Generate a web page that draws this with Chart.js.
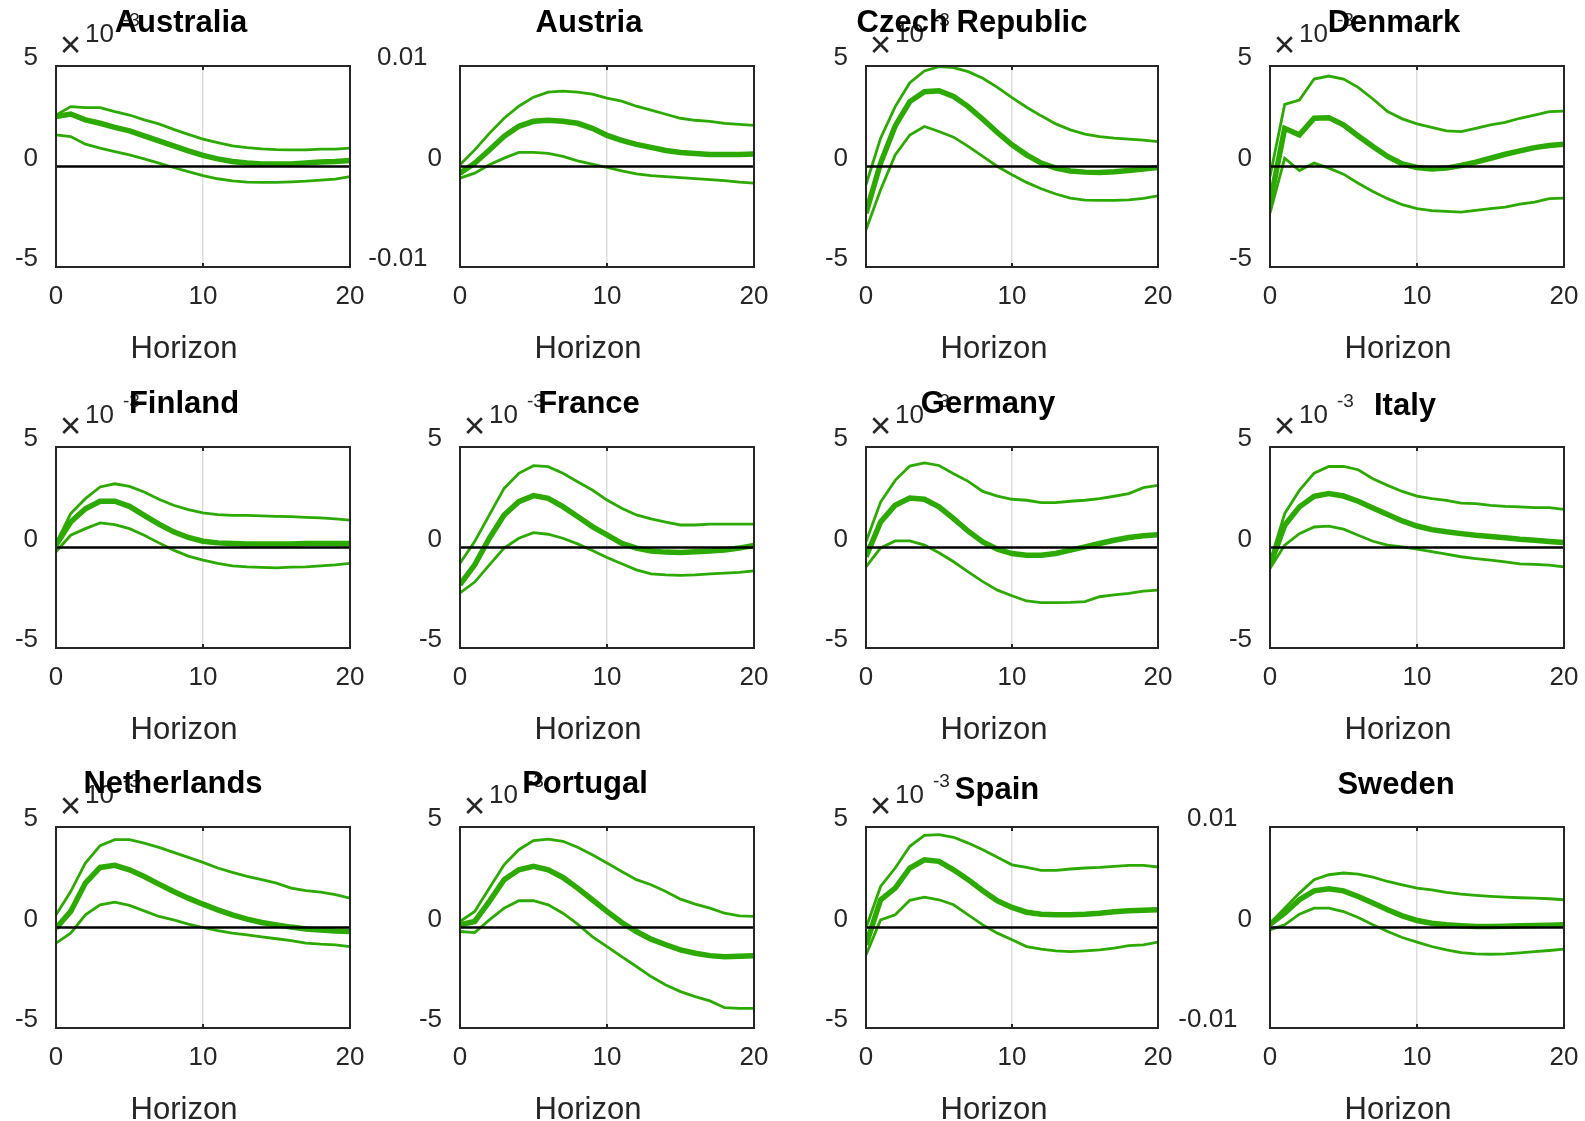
<!DOCTYPE html>
<html>
<head>
<meta charset="utf-8">
<script src="https://cdn.jsdelivr.net/npm/chart.js@4.4.0/dist/chart.umd.min.js"></script>
<style>
  html, body { margin: 0; padding: 0; background: #fff; }
  #figure { position: relative; width: 1585px; height: 1121px; overflow: hidden; }
  #figure canvas { position: absolute; }
</style>
</head>
<body>
<div id="figure"></div>
<script>
const horizons = [0, 1, 2, 3, 4, 5, 6, 7, 8, 9, 10, 11, 12, 13, 14, 15, 16, 17, 18, 19, 20]
const countries = ['Australia', 'Austria', 'Czech Republic', 'Denmark', 'Finland', 'France',
  'Germany', 'Italy', 'Netherlands', 'Portugal', 'Spain', 'Sweden']

// responses in units of 1e-3
const australiaUpper = [2.56, 2.98, 2.93, 2.93, 2.73, 2.56, 2.32, 2.12, 1.85, 1.60, 1.36, 1.19, 1.03, 0.94, 0.88, 0.84, 0.83, 0.83, 0.86, 0.86, 0.91]
const australiaMedian = [2.48, 2.61, 2.32, 2.15, 1.95, 1.77, 1.52, 1.27, 1.03, 0.78, 0.55, 0.38, 0.25, 0.17, 0.12, 0.12, 0.13, 0.17, 0.22, 0.25, 0.30]
const australiaLower = [1.57, 1.49, 1.11, 0.91, 0.74, 0.58, 0.38, 0.17, -0.05, -0.25, -0.45, -0.61, -0.71, -0.78, -0.79, -0.79, -0.76, -0.73, -0.68, -0.63, -0.50]

const austriaUpper = [0.17, 1.65, 3.3, 4.8, 6.0, 6.9, 7.4, 7.5, 7.4, 7.2, 6.8, 6.5, 6.0, 5.6, 5.2, 4.8, 4.6, 4.5, 4.3, 4.2, 4.1]
const austriaMedian = [-0.66, 0.33, 1.65, 3.0, 4.0, 4.5, 4.6, 4.5, 4.3, 3.8, 3.1, 2.6, 2.2, 1.9, 1.6, 1.4, 1.3, 1.2, 1.2, 1.2, 1.25]
const austriaLower = [-1.15, -0.66, 0.17, 0.83, 1.4, 1.4, 1.3, 1.0, 0.56, 0.23, -0.1, -0.43, -0.73, -0.9, -1.0, -1.1, -1.2, -1.3, -1.4, -1.55, -1.65]

const czechUpper = [-0.91, 1.41, 2.98, 4.17, 4.75, 4.97, 4.92, 4.72, 4.39, 3.94, 3.43, 2.95, 2.52, 2.12, 1.82, 1.61, 1.49, 1.41, 1.36, 1.31, 1.24]
const czechMedian = [-2.32, 0.17, 2.02, 3.23, 3.72, 3.77, 3.48, 2.98, 2.35, 1.69, 1.08, 0.58, 0.17, -0.08, -0.22, -0.28, -0.30, -0.26, -0.20, -0.13, -0.05]
const czechLower = [-3.15, -1.16, 0.58, 1.57, 1.99, 1.74, 1.46, 1.0, 0.5, 0.0, -0.41, -0.79, -1.11, -1.37, -1.57, -1.67, -1.69, -1.69, -1.66, -1.59, -1.46]

const denmarkUpper = [-0.50, 3.09, 3.31, 4.35, 4.50, 4.35, 3.94, 3.36, 2.73, 2.37, 2.12, 1.95, 1.77, 1.74, 1.90, 2.07, 2.20, 2.40, 2.56, 2.73, 2.76]
const denmarkMedian = [-1.82, 1.90, 1.57, 2.40, 2.43, 2.07, 1.52, 0.99, 0.50, 0.13, -0.05, -0.12, -0.08, 0.05, 0.22, 0.41, 0.61, 0.78, 0.94, 1.04, 1.11]
const denmarkLower = [-2.32, 0.41, -0.20, 0.17, -0.08, -0.38, -0.83, -1.24, -1.60, -1.90, -2.10, -2.20, -2.23, -2.27, -2.18, -2.10, -2.02, -1.87, -1.77, -1.60, -1.57]

const finlandUpper = [0.20, 1.69, 2.43, 3.01, 3.17, 3.04, 2.76, 2.40, 2.10, 1.88, 1.72, 1.64, 1.60, 1.60, 1.57, 1.55, 1.54, 1.50, 1.47, 1.42, 1.36]
const finlandMedian = [0.12, 1.27, 1.93, 2.30, 2.30, 2.05, 1.60, 1.16, 0.78, 0.50, 0.31, 0.23, 0.20, 0.18, 0.18, 0.18, 0.18, 0.20, 0.20, 0.20, 0.20]
const finlandLower = [-0.21, 0.61, 0.94, 1.22, 1.14, 0.94, 0.61, 0.23, -0.13, -0.43, -0.63, -0.79, -0.91, -0.96, -0.99, -1.01, -0.98, -0.96, -0.91, -0.86, -0.79]

const franceUpper = [-0.78, 0.30, 1.62, 2.94, 3.69, 4.07, 4.02, 3.69, 3.27, 2.86, 2.36, 1.95, 1.62, 1.42, 1.26, 1.12, 1.12, 1.16, 1.16, 1.16, 1.16]
const franceMedian = [-1.85, -0.86, 0.46, 1.62, 2.28, 2.58, 2.45, 2.03, 1.54, 1.04, 0.63, 0.21, -0.03, -0.17, -0.23, -0.25, -0.21, -0.17, -0.12, -0.03, 0.10]
const franceLower = [-2.26, -1.72, -0.86, -0.03, 0.46, 0.74, 0.66, 0.46, 0.18, -0.15, -0.50, -0.81, -1.11, -1.31, -1.36, -1.39, -1.36, -1.31, -1.27, -1.24, -1.16]

const germanyUpper = [0.28, 2.26, 3.34, 4.05, 4.21, 4.08, 3.67, 3.29, 2.79, 2.56, 2.40, 2.35, 2.23, 2.23, 2.30, 2.35, 2.43, 2.55, 2.68, 2.98, 3.09]
const germanyMedian = [-0.46, 1.27, 2.10, 2.46, 2.40, 2.02, 1.44, 0.81, 0.28, -0.08, -0.30, -0.38, -0.38, -0.30, -0.13, 0.03, 0.20, 0.36, 0.50, 0.58, 0.64]
const germanyLower = [-0.96, -0.02, 0.33, 0.33, 0.12, -0.26, -0.71, -1.21, -1.70, -2.12, -2.40, -2.66, -2.74, -2.74, -2.73, -2.69, -2.45, -2.36, -2.28, -2.17, -2.12]

const italyUpper = [-0.71, 1.69, 2.84, 3.70, 4.03, 4.03, 3.87, 3.42, 3.09, 2.79, 2.56, 2.43, 2.35, 2.21, 2.18, 2.10, 2.05, 2.02, 1.98, 1.98, 1.90]
const italyMedian = [-0.88, 1.11, 2.02, 2.55, 2.68, 2.56, 2.30, 1.97, 1.64, 1.32, 1.07, 0.89, 0.78, 0.69, 0.61, 0.55, 0.48, 0.41, 0.36, 0.30, 0.25]
const italyLower = [-1.04, 0.12, 0.69, 1.02, 1.06, 0.91, 0.61, 0.31, 0.12, 0.03, -0.08, -0.21, -0.33, -0.46, -0.55, -0.63, -0.71, -0.81, -0.84, -0.88, -0.96]

const netherlandsUpper = [0.63, 1.79, 3.21, 4.07, 4.37, 4.37, 4.20, 3.99, 3.74, 3.49, 3.24, 2.96, 2.74, 2.54, 2.38, 2.21, 1.96, 1.83, 1.76, 1.63, 1.46]
const netherlandsMedian = [-0.03, 0.80, 2.21, 2.99, 3.09, 2.87, 2.54, 2.16, 1.79, 1.46, 1.16, 0.88, 0.63, 0.42, 0.25, 0.13, 0.02, -0.07, -0.12, -0.17, -0.20]
const netherlandsLower = [-0.78, -0.28, 0.63, 1.13, 1.26, 1.10, 0.83, 0.55, 0.38, 0.17, 0.00, -0.15, -0.28, -0.37, -0.47, -0.56, -0.65, -0.78, -0.83, -0.86, -0.95]

const portugalUpper = [0.30, 0.80, 1.96, 3.12, 3.87, 4.32, 4.40, 4.29, 3.99, 3.62, 3.21, 2.79, 2.38, 2.13, 1.79, 1.41, 1.16, 0.96, 0.71, 0.58, 0.55]
const portugalMedian = [0.13, 0.30, 1.30, 2.38, 2.87, 3.04, 2.87, 2.49, 1.96, 1.38, 0.80, 0.25, -0.20, -0.58, -0.86, -1.11, -1.28, -1.40, -1.45, -1.43, -1.40]
const portugalLower = [-0.20, -0.25, 0.38, 0.96, 1.33, 1.33, 1.13, 0.71, 0.17, -0.45, -0.95, -1.45, -1.94, -2.44, -2.86, -3.19, -3.44, -3.65, -3.99, -4.02, -4.02]

const spainUpper = [-0.03, 2.04, 2.96, 4.04, 4.58, 4.62, 4.49, 4.20, 3.87, 3.49, 3.12, 2.99, 2.84, 2.84, 2.91, 2.96, 2.99, 3.04, 3.09, 3.09, 3.01]
const spainMedian = [-0.86, 1.38, 1.96, 2.96, 3.37, 3.29, 2.87, 2.38, 1.83, 1.33, 1.00, 0.76, 0.66, 0.63, 0.63, 0.66, 0.71, 0.78, 0.83, 0.86, 0.88]
const spainLower = [-1.36, 0.38, 0.63, 1.35, 1.51, 1.38, 1.13, 0.63, 0.13, -0.28, -0.61, -0.95, -1.08, -1.16, -1.20, -1.16, -1.11, -1.03, -0.90, -0.86, -0.73]

const swedenUpper = [0.43, 1.93, 3.42, 4.75, 5.25, 5.42, 5.32, 5.02, 4.58, 4.25, 3.92, 3.75, 3.49, 3.32, 3.19, 3.09, 3.02, 2.96, 2.92, 2.86, 2.76]
const swedenMedian = [0.33, 1.43, 2.76, 3.65, 3.85, 3.65, 3.09, 2.43, 1.76, 1.16, 0.70, 0.43, 0.27, 0.17, 0.10, 0.10, 0.13, 0.17, 0.20, 0.23, 0.27]
const swedenLower = [-0.23, 0.27, 1.33, 1.93, 1.93, 1.59, 1.00, 0.27, -0.40, -1.00, -1.46, -1.89, -2.23, -2.49, -2.62, -2.66, -2.62, -2.52, -2.39, -2.29, -2.16]

// panels whose y axis is written as plain 0.01 instead of x10^-3
const plainAxis = ['Austria', 'Sweden']

const upperBands = [australiaUpper, austriaUpper, czechUpper, denmarkUpper, finlandUpper, franceUpper,
  germanyUpper, italyUpper, netherlandsUpper, portugalUpper, spainUpper, swedenUpper]
const medians = [australiaMedian, austriaMedian, czechMedian, denmarkMedian, finlandMedian, franceMedian,
  germanyMedian, italyMedian, netherlandsMedian, portugalMedian, spainMedian, swedenMedian]
const lowerBands = [australiaLower, austriaLower, czechLower, denmarkLower, finlandLower, franceLower,
  germanyLower, italyLower, netherlandsLower, portugalLower, spainLower, swedenLower]

// layout of the 3x4 grid
const colLeft = [56, 460, 866, 1270]
const colWidth = [294, 294, 292, 294]
const rowTop = [66, 447, 827]
const plotHeight = 201
const axisLeft = 100
const padTop = 66
const padRight = 20
const axisBottom = 100

// title centre (from plot left) and baseline (from plot top), as placed in the figure
const titleX = [125, 129, 106, 124, 128, 129, 122, 135, 117, 125, 131, 126]
const titleY = [-34, -34, -34, -34, -34, -34, -34, -32, -34, -34, -28, -33]

const green = '#2caa02'
const ink = '#262626'
const fontFamily = "'Liberation Sans', Arial, Helvetica, sans-serif"

const matlabAxes = {
  id: 'matlabAxes',
  afterDatasetsDraw(chart, args, opts) {
    const { ctx, chartArea: a } = chart
    const x = chart.scales.x
    const y = chart.scales.y
    ctx.save()

    // zero line
    const y0 = y.getPixelForValue(0)
    ctx.strokeStyle = '#000'
    ctx.lineWidth = 2.5
    ctx.beginPath()
    ctx.moveTo(a.left, y0)
    ctx.lineTo(a.right, y0)
    ctx.stroke()

    // inner tick marks at 10
    const x10 = x.getPixelForValue(10)
    ctx.strokeStyle = ink
    ctx.lineWidth = 2
    ctx.beginPath()
    ctx.moveTo(x10, a.top)
    ctx.lineTo(x10, a.top + 4)
    ctx.moveTo(x10, a.bottom)
    ctx.lineTo(x10, a.bottom - 4)
    ctx.stroke()

    // box
    ctx.strokeRect(a.left, a.top, a.right - a.left, a.bottom - a.top)

    // exponent label
    if (opts.exponent) {
      ctx.fillStyle = ink
      ctx.textBaseline = 'middle'
      ctx.textAlign = 'center'
      ctx.font = `37px ${fontFamily}`
      ctx.fillText('\u00d7', a.left + 14.5, a.top - 19)
      ctx.textBaseline = 'alphabetic'
      ctx.textAlign = 'left'
      ctx.font = `26px ${fontFamily}`
      ctx.fillText('10', a.left + 29, a.top - 24)
      ctx.font = `19px ${fontFamily}`
      ctx.fillText('-3', a.left + 67, a.top - 40)
    }

    // title
    ctx.fillStyle = '#000'
    ctx.textAlign = 'center'
    ctx.textBaseline = 'alphabetic'
    ctx.font = `bold 31px ${fontFamily}`
    ctx.fillText(opts.title, a.left + opts.titleX, a.top + opts.titleY)

    // x label
    ctx.fillStyle = ink
    ctx.font = `31px ${fontFamily}`
    ctx.fillText('Horizon', a.left + 128, a.bottom + 90.5)

    ctx.restore()
  }
}

const figure = document.querySelector('#figure')

countries.forEach((country, index) => {
  const row = Math.floor(index / 4)
  const col = index % 4
  const plotWidth = colWidth[col]
  const plain = plainAxis.includes(country)

  const canvas = document.createElement('canvas')
  canvas.width = axisLeft + plotWidth + padRight
  canvas.height = padTop + plotHeight + axisBottom
  canvas.style.left = `${colLeft[col] - axisLeft}px`
  canvas.style.top = `${rowTop[row] - padTop}px`
  figure.appendChild(canvas)

  const toPoints = values => horizons.map((h, i) => ({ x: h, y: values[i] }))
  const limit = plain ? 10 : 5

  new Chart(canvas, {
    type: 'line',
    data: {
      datasets: [
        { label: 'upper', data: toPoints(upperBands[index]), borderWidth: 2.8 },
        { label: 'median', data: toPoints(medians[index]), borderWidth: 5.5 },
        { label: 'lower', data: toPoints(lowerBands[index]), borderWidth: 2.8 }
      ].map(ds => ({ ...ds, borderColor: green, pointRadius: 0, tension: 0, fill: false }))
    },
    options: {
      responsive: false,
      animation: false,
      devicePixelRatio: 1,
      layout: { padding: { top: padTop, right: padRight, left: 0, bottom: 0 } },
      plugins: {
        legend: { display: false },
        tooltip: { enabled: false },
        matlabAxes: {
          title: country,
          titleX: titleX[index],
          titleY: titleY[index],
          exponent: !plain
        }
      },
      scales: {
        x: {
          type: 'linear',
          min: 0,
          max: 20,
          border: { display: false },
          grid: {
            drawTicks: false,
            lineWidth: 1.5,
            color: ctx => (ctx.tick && ctx.tick.value === 10 ? '#dcdcdc' : 'rgba(0,0,0,0)')
          },
          ticks: {
            stepSize: 10,
            padding: 14,
            color: ink,
            font: { size: 26, family: fontFamily }
          },
          afterFit(scale) {
            scale.height = axisBottom
            scale.paddingLeft = 0
            scale.paddingRight = 0
          }
        },
        y: {
          min: -limit,
          max: limit,
          border: { display: false },
          grid: { display: false, drawTicks: false },
          ticks: {
            stepSize: limit,
            padding: 18,
            labelOffset: -8,
            color: ink,
            font: { size: 26, family: fontFamily },
            callback: value => {
              if (!plain) return String(value)
              return value === 0 ? '0' : `${value / 1000}  `
            }
          },
          afterFit(scale) {
            scale.width = axisLeft
            scale.paddingTop = 0
            scale.paddingBottom = 0
          }
        }
      }
    },
    plugins: [matlabAxes]
  })
})
</script>
</body>
</html>
